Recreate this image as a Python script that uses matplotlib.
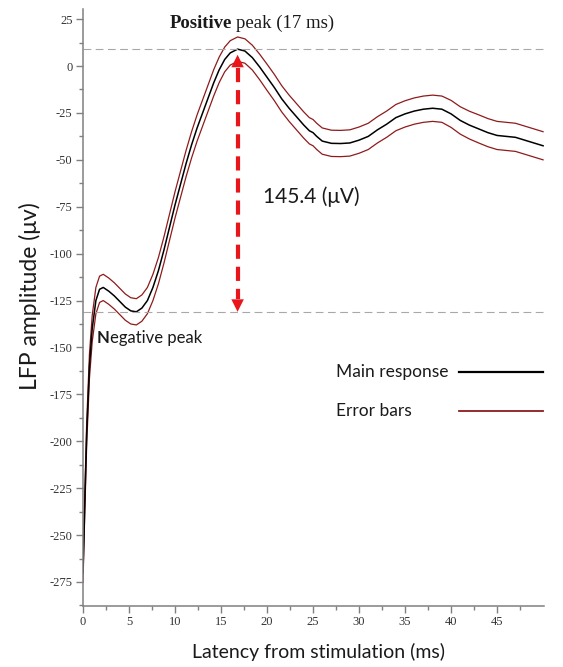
import numpy as np
import matplotlib
matplotlib.use("Agg")
import matplotlib.pyplot as plt
from matplotlib.ticker import MultipleLocator, FixedLocator, FuncFormatter
from matplotlib.lines import Line2D

# ---------------- data ----------------
latency_ms = [0, 0.2, 0.4, 0.7, 1.0, 1.4, 1.8, 2.2, 2.8, 3.4, 4.0, 4.6, 5.2, 5.8,
              6.4, 7.0, 7.6, 8.2, 8.8, 9.4, 10.0, 10.6, 11.2, 11.8, 12.4, 13.0,
              13.6, 14.2, 14.8, 15.4, 16.0, 16.8, 17.6, 18.4, 19.2, 20.0, 20.8,
              21.6, 22.4, 23.2, 24.0, 24.6, 25.0, 25.4, 26.0, 27.0, 28.0, 29.0,
              30.0, 31.0, 32.0, 33.0, 34.0, 35.0, 36.0, 37.0, 38.0, 39.0, 40.0,
              41.0, 42.0, 43.0, 44.0, 45.0, 46.0, 47.0, 48.0, 49.0, 50.0]
main_response_uv = [-270, -232, -196, -160, -140, -125, -119, -118, -120, -122.5,
                     -125.5, -128.5, -130.5, -131, -129, -125, -118, -109, -98,
                     -86, -74, -63, -52, -42, -33, -25, -17, -9, -2, 3.5, 7, 9,
                     8, 4.5, -0.5, -6, -11.5, -17.5, -22.5, -27, -31.5, -34.5,
                     -35.5, -37.5, -40, -41.2, -41.3, -41, -39.5, -37.5, -34,
                     -31, -27.5, -25.5, -24, -23, -22.5, -23, -25.5, -29, -31.5,
                     -33.5, -35.5, -37, -37.5, -38, -39.5, -41, -42.5]
error_uv = [5, 5, 6, 6.5, 7, 7, 7, 7, 7, 7, 7, 7, 7, 7,
            7, 7, 7, 7, 7, 7, 7, 7, 7, 7, 7, 7,
            7, 7, 6.8, 6.6, 6.5, 6.5, 6.5, 6.6, 6.8, 7, 7,
            7, 7, 7, 7, 7, 7, 7, 7, 7, 7, 7,
            7, 7, 7, 7, 7, 7, 7, 7, 7, 7, 7.2,
            7.3, 7.4, 7.5, 7.5, 7.5, 7.5, 7.5, 7.5, 7.5, 7.5]
x_major_ticks = [0, 5, 10, 15, 20, 25, 30, 35, 40, 45]
x_minor_ticks = [2.5, 7.5, 12.5, 17.5, 22.5, 27.5, 32.5, 37.5, 42.5, 47.5]
y_major_ticks = [-275, -250, -225, -200, -175, -150, -125, -100, -75, -50, -25, 0, 25]
legend_labels = ["Main response", "Error bars"]
amplitude_label = "145.4 (\u03bcV)"
peak_latency_label = "peak (17 ms)"

# ---------------- figure ----------------
plt.rcParams['axes.unicode_minus'] = False
SANS = ['Lato', 'DejaVu Sans']
SERIF = ['Liberation Serif', 'DejaVu Serif']
TXT = '#1a1a1a'

W, H = 563, 667
fig = plt.figure(figsize=(W / 100, H / 100), dpi=100)
ax = fig.add_axes([83 / W, 1 - 606 / H, (544 - 83) / W, (606 - 9) / H])

t = np.array(latency_ms)
m = np.array(main_response_uv)
e = np.array(error_uv)

red_dark = '#8e1b1b'
ax.plot(t, m + e, color=red_dark, lw=0.9, solid_joinstyle='round')
ax.plot(t, m - e, color=red_dark, lw=0.9, solid_joinstyle='round')
ax.plot(t, m, color='black', lw=1.1, solid_joinstyle='round')

ax.set_xlim(0, 50.1)
ax.set_ylim(-287.8, 30.4)

# reference lines at positive peak and negative (early trough) peak
ipk = int(np.argmax(m))
early = np.where((t > 2) & (t < 10))[0]
ineg = int(early[np.argmin(m[early])])
ax.axhline(m[ipk], color='#a8a8a8', lw=0.8, dashes=(7, 4))
ax.axhline(m[ineg], color='#a8a8a8', lw=0.8, dashes=(7, 4))

# red dashed double arrow
arr_red = '#e8151b'
x_arr = t[ipk]
y_top = m[ipk] - 3
y_bot = m[ineg]
head_len = 7.0
ax.plot([x_arr, x_arr], [y_top - head_len, y_bot + head_len], color=arr_red,
        lw=3, dashes=(3.4, 1.9), solid_capstyle='butt', dash_capstyle='butt')
for tip, sgn in [(y_top, -1), (y_bot, 1)]:
    ax.annotate('', xy=(x_arr, tip), xytext=(x_arr, tip + sgn * (head_len + 0.5)),
                arrowprops=dict(arrowstyle='-|>,head_length=0.9,head_width=0.45',
                                color=arr_red, lw=0, shrinkA=0, shrinkB=0))

# spines / ticks
for s in ['top', 'right']:
    ax.spines[s].set_visible(False)
for s in ['left', 'bottom']:
    ax.spines[s].set_color('#808080')
    ax.spines[s].set_linewidth(1.1)

ax.xaxis.set_major_locator(FixedLocator(x_major_ticks))
ax.xaxis.set_minor_locator(FixedLocator(x_minor_ticks))
ax.yaxis.set_major_locator(FixedLocator(y_major_ticks))
ax.yaxis.set_minor_locator(MultipleLocator(12.5))
ax.xaxis.set_major_formatter(FuncFormatter(lambda v, p: f"{int(round(v))}"))
ax.yaxis.set_major_formatter(FuncFormatter(lambda v, p: f"{int(round(v))}"))
ax.tick_params(which='major', direction='out', length=5, width=1, color='#808080',
               labelsize=9, labelcolor='#333333', pad=2.5)
ax.tick_params(which='minor', direction='out', length=3, width=1, color='#808080')
for lab in ax.get_xticklabels() + ax.get_yticklabels():
    lab.set_family(SERIF)

# axis labels
fig.text(30 / W, 1 - 296 / H, "LFP amplitude (\u03bcv)", rotation=90, ha='center',
         va='center', fontsize=16.5, family=SANS, color=TXT)
fig.text(318 / W, 1 - 652 / H, "Latency from stimulation (ms)", ha='center',
         va='center', fontsize=14, family=SANS, color=TXT)

# annotations
fig.canvas.draw()
renderer = fig.canvas.get_renderer()

tp = ax.text(9.46, 20.1, "Positive", fontsize=13.5, fontweight='bold', family=SERIF,
             color=TXT, ha='left', va='baseline')
bb = tp.get_window_extent(renderer)
x2 = ax.transData.inverted().transform((bb.x1 + 4, bb.y0))[0]
ax.text(x2, 20.1, peak_latency_label, fontsize=13.5, family=SERIF, color=TXT,
        ha='left', va='baseline')

tn = ax.text(1.52, -147.5, "N", fontsize=12, fontweight='bold', family=SANS,
             color=TXT, ha='left', va='baseline')
bb = tn.get_window_extent(renderer)
x2 = ax.transData.inverted().transform((bb.x1, bb.y0))[0]
ax.text(x2, -147.5, "egative peak", fontsize=12, family=SANS, color=TXT,
        ha='left', va='baseline')

ax.text(19.6, -73, amplitude_label, fontsize=15, family=SANS, color=TXT,
        ha='left', va='baseline')

# legend (text first, line after; text left-aligned)
leg_rows = [(372, 'black', 1.6), (411, red_dark, 1.3)]
for label, (yy, col, lw) in zip(legend_labels, leg_rows):
    fig.text(336 / W, 1 - yy / H, label, ha='left', va='center', fontsize=12.5,
             family=SANS, color=TXT)
    fig.add_artist(Line2D([459 / W, 543 / W], [1 - yy / H, 1 - yy / H],
                          color=col, lw=lw, transform=fig.transFigure))

fig.savefig("out.png", dpi=100)
